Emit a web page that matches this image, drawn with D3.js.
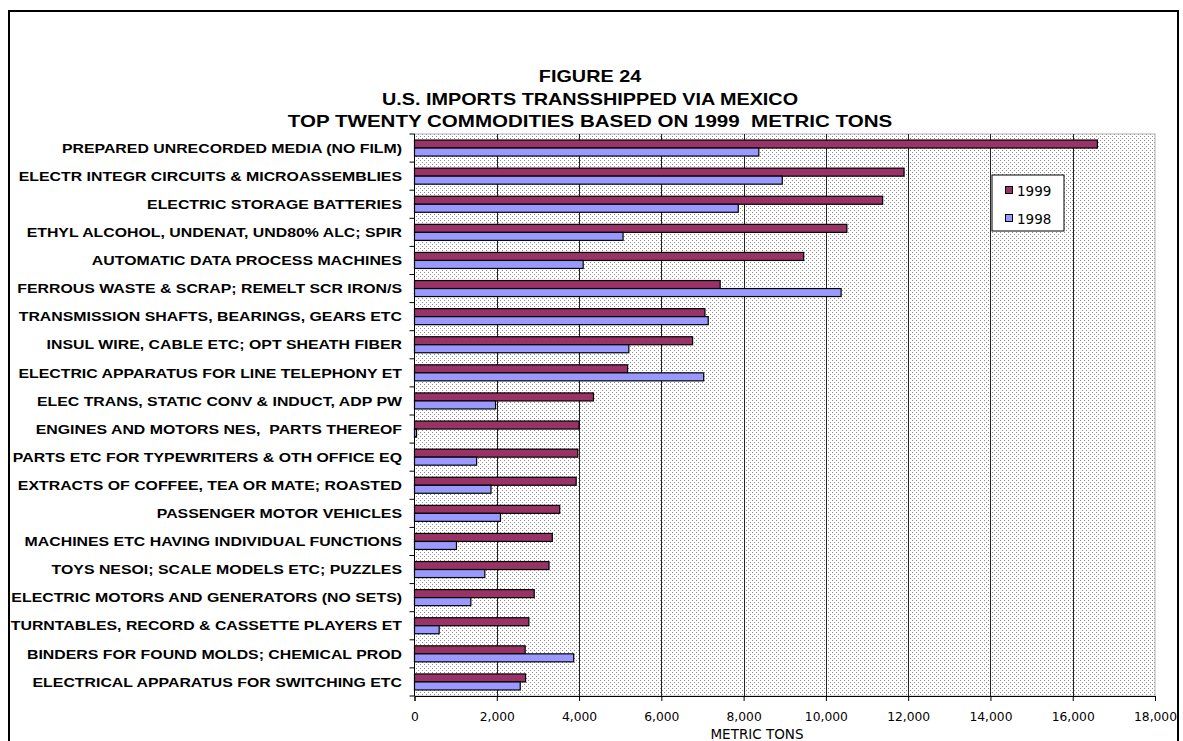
<!DOCTYPE html>
<html>
<head>
<meta charset="utf-8">
<script src="https://cdn.jsdelivr.net/npm/d3@7/dist/d3.min.js"></script>
<style>
  body { margin: 0; background: #fff; }
  svg { display: block; }
  text { white-space: pre; }
</style>
</head>
<body>
<div id="chart"></div>
<script>
const categories = [
  "PREPARED UNRECORDED MEDIA (NO FILM)",
  "ELECTR INTEGR CIRCUITS & MICROASSEMBLIES",
  "ELECTRIC STORAGE BATTERIES",
  "ETHYL ALCOHOL, UNDENAT, UND80% ALC; SPIR",
  "AUTOMATIC DATA PROCESS MACHINES",
  "FERROUS WASTE & SCRAP; REMELT SCR IRON/S",
  "TRANSMISSION SHAFTS, BEARINGS, GEARS ETC",
  "INSUL WIRE, CABLE ETC; OPT SHEATH FIBER",
  "ELECTRIC APPARATUS FOR LINE TELEPHONY ET",
  "ELEC TRANS, STATIC CONV & INDUCT, ADP PW",
  "ENGINES AND MOTORS NES,  PARTS THEREOF",
  "PARTS ETC FOR TYPEWRITERS & OTH OFFICE EQ",
  "EXTRACTS OF COFFEE, TEA OR MATE; ROASTED",
  "PASSENGER MOTOR VEHICLES",
  "MACHINES ETC HAVING INDIVIDUAL FUNCTIONS",
  "TOYS NESOI; SCALE MODELS ETC; PUZZLES",
  "ELECTRIC MOTORS AND GENERATORS (NO SETS)",
  "TURNTABLES, RECORD & CASSETTE PLAYERS ET",
  "BINDERS FOR FOUND MOLDS; CHEMICAL PROD",
  "ELECTRICAL APPARATUS FOR SWITCHING ETC"
];
const values1999 = [16600, 11900, 11380, 10510, 9460, 7430, 7060, 6760, 5180, 4350, 4000, 3970, 3930, 3530, 3350, 3270, 2910, 2780, 2690, 2700];
const values1998 = [8370, 8940, 7870, 5070, 4100, 10370, 7140, 5210, 7030, 1970, 50, 1510, 1860, 2090, 1020, 1710, 1370, 600, 3870, 2570];
const seriesNames = ["1999", "1998"];
const xTicks = [0, 2000, 4000, 6000, 8000, 10000, 12000, 14000, 16000, 18000];
const titleLines = ["FIGURE 24", "U.S. IMPORTS TRANSSHIPPED VIA MEXICO", "TOP TWENTY COMMODITIES BASED ON 1999  METRIC TONS"];
const xAxisTitle = "METRIC TONS";

const W = 1183, H = 741;
const svg = d3.select("#chart").append("svg").attr("width", W).attr("height", H);

// dotted background pattern
const defs = svg.append("defs");
const pat = defs.append("pattern").attr("id", "dots").attr("patternUnits", "userSpaceOnUse")
  .attr("width", 4).attr("height", 4);
pat.append("rect").attr("width", 4).attr("height", 4).attr("fill", "#fff");
pat.append("rect").attr("x", 0).attr("y", 0).attr("width", 1).attr("height", 1).attr("fill", "#8a8a8a");
pat.append("rect").attr("x", 2).attr("y", 2).attr("width", 1).attr("height", 1).attr("fill", "#8a8a8a");

// outer frame
svg.append("rect").attr("x", 9).attr("y", 11).attr("width", 1169).attr("height", 760)
  .attr("fill", "none").attr("stroke", "#000").attr("stroke-width", 2);

const m = { left: 414.5, right: 1155, top: 134, bottom: 696 };
const x = d3.scaleLinear().domain([0, 18000]).range([m.left, m.right]);
const y = d3.scaleBand().domain(categories).range([m.top, m.bottom]).paddingInner(0.43).paddingOuter(0.215);
const sub = d3.scaleBand().domain(seriesNames).range([0, y.bandwidth()]);
const colors = { "1999": "#993366", "1998": "#9999FF" };

// plot background
svg.append("rect").attr("x", m.left).attr("y", m.top).attr("width", m.right - m.left).attr("height", m.bottom - m.top)
  .attr("fill", "url(#dots)").attr("stroke", "#b0b0b0").attr("stroke-width", 1);

// gridlines
svg.append("g").selectAll("line").data(xTicks.filter(d => d > 0 && d < 18000)).join("line")
  .attr("x1", d => Math.round(x(d)) + 0.5).attr("x2", d => Math.round(x(d)) + 0.5)
  .attr("y1", m.top).attr("y2", m.bottom)
  .attr("stroke", "#222").attr("stroke-width", 1);

// bars
const groups = svg.append("g").selectAll("g").data(categories).join("g")
  .attr("transform", d => `translate(0,${y(d)})`);
groups.selectAll("rect").data((d, i) => [
  { s: "1999", v: values1999[i] },
  { s: "1998", v: values1998[i] }
]).join("rect")
  .attr("x", x(0))
  .attr("y", d => sub(d.s))
  .attr("width", d => Math.max(0, x(d.v) - x(0)))
  .attr("height", sub.bandwidth())
  .attr("fill", d => colors[d.s])
  .attr("stroke", "#000").attr("stroke-width", 1.2);

// y axis
const yAxisG = svg.append("g");
yAxisG.append("line").attr("x1", m.left).attr("x2", m.left).attr("y1", m.top).attr("y2", m.bottom)
  .attr("stroke", "#000").attr("stroke-width", 1);
const boundaries = d3.range(categories.length + 1).map(i => m.top + i * (m.bottom - m.top) / categories.length);
yAxisG.selectAll("line.t").data(boundaries).join("line").attr("class", "t")
  .attr("x1", m.left - 5).attr("x2", m.left).attr("y1", d => d).attr("y2", d => d)
  .attr("stroke", "#000");
yAxisG.selectAll("text").data(categories).join("text")
  .attr("transform", d => `translate(402,${y(d) + y.bandwidth() / 2}) scale(1.22,1)`)
  .attr("dy", "0.36em").attr("text-anchor", "end")
  .attr("font-family", "Liberation Sans, Arial, sans-serif").attr("font-weight", "bold")
  .attr("font-size", 13).attr("fill", "#000")
  .text(d => d);

// x axis
const xAxis = d3.axisBottom(x).tickValues(xTicks).tickSize(5).tickFormat(d3.format(","));
const xg = svg.append("g").attr("transform", `translate(0,${m.bottom})`).call(xAxis);
xg.select(".domain").attr("stroke", "#000");
xg.selectAll("text").attr("font-family", "DejaVu Sans, Verdana, sans-serif").attr("font-size", 12.3)
  .attr("fill", "#000").attr("dy", "1.35em");

svg.append("text").attr("x", 757).attr("y", 739).attr("text-anchor", "middle")
  .attr("font-family", "DejaVu Sans, Verdana, sans-serif").attr("font-size", 13.5)
  .text(xAxisTitle);

// title
const ty = [82, 105, 127];
const tscale = [1.2, 1.2, 1.245];
svg.append("g").selectAll("text").data(titleLines).join("text")
  .attr("transform", (d, i) => `translate(590,${ty[i]}) scale(${tscale[i]},1)`).attr("text-anchor", "middle")
  .attr("font-family", "Liberation Sans, Arial, sans-serif").attr("font-weight", "bold")
  .attr("font-size", 16.5).text(d => d);

// legend
const lg = svg.append("g").attr("transform", "translate(992,175)");
lg.append("rect").attr("width", 72).attr("height", 56).attr("fill", "#fff").attr("stroke", "#000");
seriesNames.forEach((s, i) => {
  lg.append("rect").attr("x", 13.5).attr("y", 11.5 + i * 28).attr("width", 7).attr("height", 7)
    .attr("fill", colors[s]).attr("stroke", "#000");
  lg.append("text").attr("x", 25).attr("y", 20.5 + i * 28)
    .attr("font-family", "DejaVu Sans, Verdana, sans-serif").attr("font-size", 13.5)
    .text(s);
});
</script>
</body>
</html>
